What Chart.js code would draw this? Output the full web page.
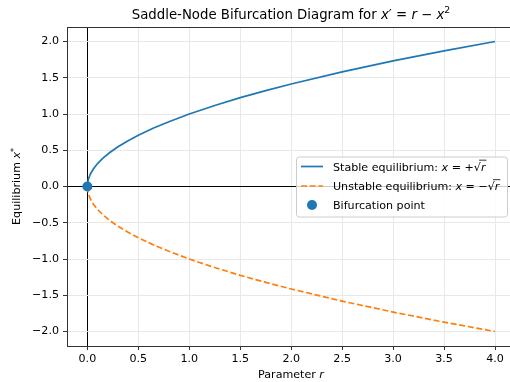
<!DOCTYPE html>
<html>
<head>
<meta charset="utf-8">
<script src="https://cdn.jsdelivr.net/npm/chart.js@4/dist/chart.umd.min.js"></script>
<style>
  body { margin: 0; background: #fff; }
  canvas { display: block; }
</style>
</head>
<body>
<canvas id="myChart" width="510" height="382"></canvas>
<script>
// values
const rValues = [0, 0.002, 0.01, 0.03, 0.06, 0.1, 0.15, 0.22, 0.3, 0.4, 0.5, 0.65, 0.8, 1.0, 1.25, 1.5, 1.75, 2.0, 2.5, 3.0, 3.5, 4.0];
const stableX = [0, 0.045, 0.1, 0.173, 0.245, 0.316, 0.387, 0.469, 0.548, 0.632, 0.707, 0.806, 0.894, 1.0, 1.118, 1.225, 1.323, 1.414, 1.581, 1.732, 1.871, 2.0];
const unstableX = [0, -0.045, -0.1, -0.173, -0.245, -0.316, -0.387, -0.469, -0.548, -0.632, -0.707, -0.806, -0.894, -1.0, -1.118, -1.225, -1.323, -1.414, -1.581, -1.732, -1.871, -2.0];
const bifR = [0];
const bifX = [0];
const xTicks = [0, 0.5, 1, 1.5, 2, 2.5, 3, 3.5, 4];
const yTicks = [-2, -1.5, -1, -0.5, 0, 0.5, 1, 1.5, 2];
const seriesLabels = ['Stable equilibrium: $x = +√r$', 'Unstable equilibrium: $x = −√r$', 'Bifurcation point'];
const titleText = 'Saddle-Node Bifurcation Diagram for $x′ = r − x²$';
const xLabel = 'Parameter $r$';
const yLabel = 'Equilibrium $x*$';

const FONT = 'DejaVu Sans';

function pts(xs, ys) {
    return xs.map((x, i) => ({x: x, y: ys[i]}));
}

// split "text $math$" into drawable pieces, roughly like mathtext
function tokens(str, size) {
    const out = [];
    str.split('$').forEach((part, i) => {
        if (i % 2 === 0) {
            if (part) out.push({t: part, font: size + 'px "' + FONT + '"'});
            return;
        }
        for (const ch of part) {
            if (/[a-z]/.test(ch)) out.push({t: ch, font: 'italic ' + size + 'px "' + FONT + '"'});
            else if (ch === '²') out.push({t: '2', font: (size * 0.7) + 'px "' + FONT + '"', dy: -size * 0.42});
            else if (ch === '*') out.push({t: '*', font: (size * 0.7) + 'px "' + FONT + '"', dy: -size * 0.4});
            else if (ch === '√') out.push({t: '√', font: size + 'px "' + FONT + '"', sqrt: true});
            else out.push({t: ch, font: size + 'px "' + FONT + '"'});
        }
    });
    return out;
}

function drawRich(ctx, str, x, y, size, align) {
    const toks = tokens(str, size);
    let total = 0;
    toks.forEach(tk => { ctx.font = tk.font; tk.w = ctx.measureText(tk.t).width; total += tk.w; });
    let cx = align === 'center' ? x - total / 2 : x;
    ctx.textAlign = 'left';
    ctx.textBaseline = 'alphabetic';
    let over = null;
    toks.forEach(tk => {
        ctx.font = tk.font;
        ctx.fillText(tk.t, cx, y + (tk.dy || 0));
        if (over !== null) {
            ctx.beginPath();
            ctx.lineWidth = 0.8;
            ctx.moveTo(over, y - size * 0.93);
            ctx.lineTo(cx + tk.w + 1, y - size * 0.93);
            ctx.stroke();
            over = null;
        }
        if (tk.sqrt) over = cx + tk.w * 0.75;
        cx += tk.w;
    });
}

const textPlugin = {
    id: 'textPlugin',
    afterDraw(chart) {
        const ctx = chart.ctx;
        const area = chart.chartArea;
        const axesRight = 515;
        const midX = (area.left + axesRight) / 2;
        ctx.save();
        ctx.fillStyle = '#000';
        ctx.strokeStyle = '#000';

        // top spine
        ctx.beginPath();
        ctx.lineWidth = 1;
        ctx.strokeStyle = '#333';
        ctx.moveTo(area.left, area.top + 0.5);
        ctx.lineTo(area.right, area.top + 0.5);
        ctx.stroke();
        ctx.strokeStyle = '#000';

        drawRich(ctx, titleText, midX, 19, 13.3, 'center');
        drawRich(ctx, xLabel, midX, 378, 11.1, 'center');
        ctx.save();
        ctx.translate(20, (area.top + area.bottom) / 2);
        ctx.rotate(-Math.PI / 2);
        drawRich(ctx, yLabel, 0, 0, 11.1, 'center');
        ctx.restore();

        // legend
        const lx = 296, ly = 156.5, lw = 211, lh = 60;
        ctx.beginPath();
        ctx.roundRect(lx + 0.5, ly + 0.5, lw, lh, 3);
        ctx.fillStyle = 'rgba(255,255,255,0.8)';
        ctx.fill();
        ctx.strokeStyle = '#cccccc';
        ctx.lineWidth = 1;
        ctx.stroke();
        const rows = [166.5, 186, 205];
        chart.data.datasets.forEach((ds, i) => {
            const yy = rows[i];
            if (i < 2) {
                ctx.beginPath();
                ctx.strokeStyle = ds.borderColor;
                ctx.lineWidth = ds.borderWidth;
                ctx.setLineDash(ds.borderDash || []);
                ctx.moveTo(301, yy);
                ctx.lineTo(323, yy);
                ctx.stroke();
                ctx.setLineDash([]);
            } else {
                ctx.beginPath();
                ctx.fillStyle = ds.backgroundColor;
                ctx.arc(312, yy, 5, 0, Math.PI * 2);
                ctx.fill();
            }
            ctx.fillStyle = '#000';
            ctx.strokeStyle = '#000';
            drawRich(ctx, ds.label, 333, yy + 4, 11.1, 'left');
        });
        ctx.restore();
    }
};

function tickText(v) {
    return v.toFixed(1).replace('-', '\u2212');
}

const config = {
    type: 'scatter',
    data: {
        datasets: [{
            label: seriesLabels[0],
            data: pts(rValues, stableX),
            showLine: true,
            borderColor: '#1f77b4',
            backgroundColor: '#1f77b4',
            borderWidth: 1.7,
            pointRadius: 0,
            order: 3
        }, {
            label: seriesLabels[1],
            data: pts(rValues, unstableX),
            showLine: true,
            borderColor: '#ff7f0e',
            backgroundColor: '#ff7f0e',
            borderWidth: 1.7,
            borderDash: [6, 2.7],
            pointRadius: 0,
            order: 2
        }, {
            label: seriesLabels[2],
            data: pts(bifR, bifX),
            backgroundColor: '#1f77b4',
            borderWidth: 0,
            pointRadius: 5,
            order: 1
        }]
    },
    options: {
        responsive: false,
        animation: false,
        layout: { autoPadding: false, padding: { top: 27, left: 0, right: 0, bottom: 0 } },
        plugins: {
            legend: { display: false },
            title: { display: false },
            tooltip: { enabled: false }
        },
        scales: {
            x: {
                type: 'linear',
                min: -0.2,
                max: 4.147,
                afterBuildTicks: s => { s.ticks = xTicks.map(v => ({value: v})); },
                afterFit: s => { s.height = 36; s.paddingLeft = 0; s.paddingRight = 0; },
                ticks: {
                    color: '#000',
                    font: { family: FONT, size: 11.1 },
                    padding: 2,
                    maxRotation: 0,
                    callback: v => tickText(v)
                },
                grid: {
                    color: c => (c.tick && c.tick.value === 0) ? '#000' : '#e8e8e8',
                    lineWidth: 1,
                    tickColor: '#333',
                    tickLength: 4
                },
                border: { color: '#333', width: 1 }
            },
            y: {
                type: 'linear',
                min: -2.2,
                max: 2.2,
                afterBuildTicks: s => { s.ticks = yTicks.map(v => ({value: v})); },
                afterFit: s => { s.width = 67; s.paddingTop = 0; s.paddingBottom = 0; },
                ticks: {
                    color: '#000',
                    font: { family: FONT, size: 11.1 },
                    padding: 4,
                    callback: v => tickText(v)
                },
                grid: {
                    color: c => (c.tick && c.tick.value === 0) ? '#000' : '#e8e8e8',
                    lineWidth: 1,
                    tickColor: '#333',
                    tickLength: 4
                },
                border: { color: '#333', width: 1 }
            }
        }
    },
    plugins: [textPlugin]
};

const myChart = new Chart(document.getElementById('myChart'), config);
</script>
</body>
</html>
